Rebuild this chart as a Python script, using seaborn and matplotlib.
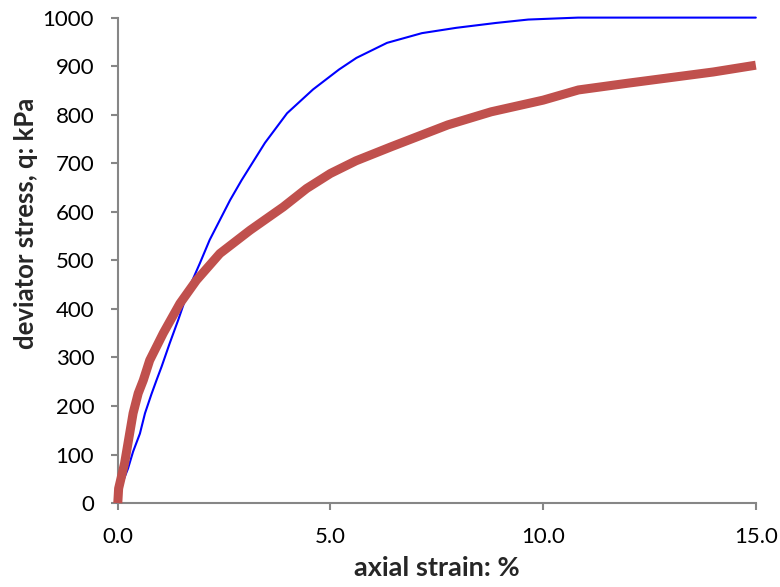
import matplotlib
matplotlib.use("Agg")
import matplotlib.pyplot as plt
import seaborn as sns
import pandas as pd

# Blue curve (thin)
blue_strain = [0, 0.1, 0.24, 0.36, 0.52, 0.64, 0.79, 0.91, 1.03, 1.22, 1.42, 1.69, 1.93,
               2.16, 2.40, 2.64, 2.91, 3.16, 3.46, 3.98, 4.59, 5.20, 5.61, 6.33, 7.15,
               7.96, 8.89, 9.65, 10.82, 15.0]
blue_q = [0, 40, 71, 106, 143, 185, 224, 253, 281, 329, 377, 446, 494,
          542, 583, 624, 665, 700, 742, 803, 852, 893, 917, 948, 968,
          979, 989, 996, 1000, 1000]

# Red curve (thick)
red_strain = [0, 0.02, 0.16, 0.36, 0.48, 0.6, 0.75, 1.07, 1.46, 1.85, 2.40, 3.11, 3.89,
              4.44, 5.0, 5.6, 6.43, 7.76, 8.78, 10.0, 10.83, 12.0, 12.87, 14.0, 15.0]
red_q = [0, 30, 82, 185, 226, 253, 294, 350, 411, 459, 514, 562, 610,
         648, 679, 705, 734, 779, 806, 830, 851, 865, 875, 888, 902]

x_ticks = [0, 5, 10, 15]
x_tick_labels = ["0.0", "5.0", "10.0", "15.0"]
y_ticks = list(range(0, 1001, 100))

blue_df = pd.DataFrame({"strain": blue_strain, "q": blue_q})
red_df = pd.DataFrame({"strain": red_strain, "q": red_q})

sns.set_style("ticks")
plt.rcParams["font.family"] = ["Lato", "DejaVu Sans"]

fig = plt.figure(figsize=(7.8, 5.87), dpi=100)
ax = fig.add_axes([0.151, 0.143, 0.818, 0.827])

sns.lineplot(data=blue_df, x="strain", y="q", color="#0000FF", linewidth=1.5, ax=ax,
             clip_on=False, zorder=2)
sns.lineplot(data=red_df, x="strain", y="q", color="#C0504D", linewidth=6.5, ax=ax,
             clip_on=False, zorder=3, solid_capstyle="butt")

ax.set_xlim(0, 15)
ax.set_ylim(0, 1000)
ax.set_xticks(x_ticks)
ax.set_xticklabels(x_tick_labels)
ax.set_yticks(y_ticks)

gray = "#868686"
for side in ["top", "right"]:
    ax.spines[side].set_visible(False)
for side in ["left", "bottom"]:
    ax.spines[side].set_color(gray)
    ax.spines[side].set_linewidth(1.5)
ax.tick_params(axis="both", direction="out", length=5, width=1.5, color=gray,
               labelsize=16, labelcolor="black")
ax.tick_params(axis="x", pad=12)
ax.tick_params(axis="y", pad=12)

ax.set_xlabel("axial strain: %", fontsize=19.5, fontweight="bold", va="center")
ax.set_ylabel("deviator stress, q: kPa", fontsize=18.5, fontweight="bold", va="center")
ax.xaxis.set_label_coords(0.5, -0.134)
ax.yaxis.set_label_coords(-0.144, 0.577)

fig.savefig("out.png", dpi=100)
